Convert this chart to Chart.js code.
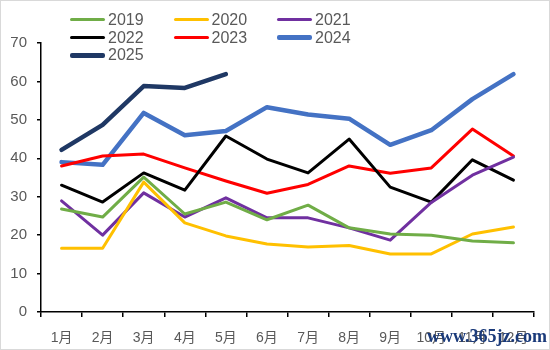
<!DOCTYPE html>
<html><head><meta charset="utf-8">
<script src="https://cdn.jsdelivr.net/npm/chart.js@4/dist/chart.umd.min.js"></script>
<style>
html,body{margin:0;padding:0;background:#fff;}
#wrap{position:relative;width:550px;height:350px;box-sizing:border-box;border:1px solid #d9d9d9;overflow:hidden;}
canvas{position:absolute;left:0;top:0;}
#legend{position:absolute;left:69px;top:10px;display:grid;grid-template-columns:103.5px 103.5px 103.5px;row-gap:0;font-family:'Liberation Sans','Noto Sans CJK SC',sans-serif;font-size:16px;color:#595959;}
.item{display:flex;align-items:center;height:17.7px;}
.sw{display:inline-block;width:35px;margin-right:3px;border-radius:2px;}
#wm{position:absolute;left:426px;top:325px;font-family:'Liberation Serif','DejaVu Serif',serif;font-size:18px;color:#1a3a7a;font-weight:bold;}
</style></head>
<body>
<div id="wrap">
<canvas id="c" width="550" height="350"></canvas>
<div id="legend"></div>
<div id="wm">www.365jz.com</div>
</div>
<script>
const categories = ['1月','2月','3月','4月','5月','6月','7月','8月','9月','10月','11月','12月'];
const years = ['2019','2020','2021','2022','2023','2024','2025'];
const v2019 = [26.8,24.7,35.1,25.5,28.6,24.0,27.8,21.9,20.3,20.0,18.5,18.0];
const v2020 = [16.6,16.6,33.8,23.2,19.8,17.7,16.9,17.3,15.1,15.1,20.3,22.1];
const v2021 = [28.9,20.0,31.0,24.7,29.7,24.5,24.5,21.9,18.7,28.5,35.6,40.3];
const v2022 = [33.0,28.6,36.2,31.7,45.8,39.8,36.2,45.0,32.5,28.6,39.6,34.3];
const v2023 = [38.0,40.6,41.1,37.5,34.1,30.9,33.2,38.0,36.1,37.5,47.6,40.6];
const v2024 = [39.0,38.3,51.8,46.0,47.1,53.3,51.4,50.3,43.5,47.3,55.4,61.9];
const v2025 = [42.2,48.7,58.8,58.3,61.9];
const yTicks = [0,10,20,30,40,50,60,70];

const colors = ['#70AD47','#FFC000','#7030A0','#000000','#FF0000','#4472C4','#1F3864'];
const widths = [3,3,3,3,3,4.5,4.5];
const series = [v2019,v2020,v2021,v2022,v2023,v2024,v2025];

const FONT = "'Liberation Sans','Noto Sans CJK SC',sans-serif";

const datasets = years.map((y,i)=>({
  label:y, data:series[i], borderColor:colors[i], backgroundColor:colors[i],
  borderWidth:widths[i], pointRadius:0, tension:0, fill:false,
  borderCapStyle:'round', borderJoinStyle:'round'
}));

const lg = document.getElementById('legend');
years.forEach((y,i)=>{
  const d=document.createElement('div'); d.className='item';
  const s=document.createElement('span'); s.className='sw';
  s.style.height=Math.round(widths[i])+'px'; s.style.background=colors[i];
  const t=document.createElement('span'); t.textContent=y;
  d.appendChild(s); d.appendChild(t); lg.appendChild(d);
});

new Chart(document.getElementById('c'),{
  type:'line',
  data:{labels:categories,datasets},
  options:{
    responsive:false, animation:false,
    layout:{padding:{top:42,right:17,left:0,bottom:0}},
    plugins:{legend:{display:false},tooltip:{enabled:false}},
    scales:{
      x:{
        offset:true,
        grid:{display:true,drawOnChartArea:false,drawTicks:true,tickLength:5,color:'#000',offset:true,lineWidth:1.5},
        border:{display:true,color:'#000',width:1.5},
        ticks:{color:'#595959',font:{family:FONT,size:14},padding:13,maxRotation:0,autoSkip:false},
        afterFit:s=>{s.height=39;}
      },
      y:{
        min:0,max:70,
        afterBuildTicks:s=>{s.ticks=yTicks.map(v=>({value:v}));},
        grid:{display:true,drawOnChartArea:false,drawTicks:true,tickLength:4,color:'#000',lineWidth:1.5},
        border:{display:true,color:'#000',width:1.5},
        ticks:{color:'#595959',font:{family:FONT,size:15},padding:10},
        afterFit:s=>{s.width=40;}
      }
    }
  }
});
</script>
</body></html>
